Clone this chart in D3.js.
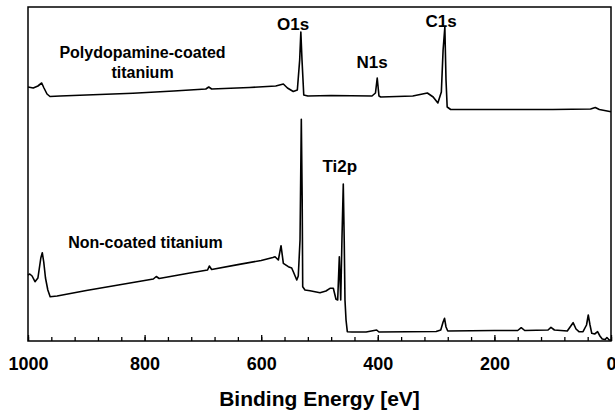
<!DOCTYPE html>
<html>
<head>
<meta charset="utf-8">
<script src="https://cdn.jsdelivr.net/npm/d3@7"></script>
<style>
    body { margin: 0; background: #fff; }
    svg { display: block; font-family: "Liberation Sans", Arial, sans-serif; }
</style>
</head>
<body>
<svg id="chart" width="615" height="416"></svg>
<script>
// binding energy (eV) and intensity (arb. units)
const coatedEnergy = [1000, 991, 983, 976.5, 972.6, 967.4, 962.3, 945, 900, 820, 750, 695, 690, 685, 620, 575, 562, 555, 545, 538, 534, 532, 530, 527, 520, 480, 410, 404, 401, 398, 395, 340, 315, 305, 297, 291, 288, 285, 283, 281, 275, 200, 100, 35, 27, 20, 0]
const coatedIntensity = [254, 253, 255, 258, 253, 247, 244.5, 245, 246, 247.7, 250, 252, 254, 252, 253.5, 255, 257, 253, 249.5, 251, 281, 309, 281, 246, 245, 245.5, 245, 248, 263, 245, 244, 245, 248, 244, 238, 249, 291, 314, 261, 234, 231.5, 231.5, 231.5, 232, 233.5, 231.5, 229.3]

const bareEnergy = [1000, 997, 993, 988, 983, 978, 975.5, 973, 970, 966, 962, 950, 900, 850, 785, 780, 775, 720, 692, 689, 685, 640, 600, 580, 576.3, 570.6, 566, 562, 553.5, 547.7, 544.9, 539, 536.4, 533.4, 531.2, 529.7, 528.8, 524.9, 516.3, 499.1, 488.9, 482, 476.3, 471.7, 468.8, 466, 463.6, 461.4, 459.2, 457.6, 456.3, 454.5, 452.3, 444.3, 420, 402, 398, 300, 292, 288, 285.5, 283, 280, 200, 160, 154, 148, 108, 103, 97, 75, 65, 60, 55, 48, 42, 39, 36, 33, 28, 23, 19, 15, 10, 7, 3, 0]
const bareIntensity = [66, 67, 65, 59.3, 63, 83, 88.3, 79, 63, 51, 44.3, 45, 50.5, 55.5, 62, 64.5, 62.5, 68.3, 71, 75, 71.5, 76.4, 80.5, 83.5, 84.3, 81, 95.3, 77.7, 74.3, 73, 69.3, 61, 65, 101, 221.7, 141, 54.3, 51, 50.3, 48.3, 50, 52.7, 52.7, 41.7, 41, 84.3, 41, 104.3, 157, 101, 41, 21, 9.3, 9, 9, 11, 9, 9.5, 11, 19, 22.7, 14, 10, 10.5, 10.5, 13.3, 10.5, 11, 13.7, 11, 10, 18.3, 12, 9.3, 9.3, 16, 26, 16, 7.7, 7, 9.3, 5, 2, 1.5, 3.5, 1, 1]

const majorTicks = [1000, 800, 600, 400, 200, 0]
const minorTicks = d3.range(0, 1001, 40)

const xLabel = "Binding Energy [eV]"

const peakLabels = [
    { text: "O1s", x: 277, y: 30 },
    { text: "N1s", x: 356.5, y: 67.5 },
    { text: "C1s", x: 425.5, y: 26.5 },
    { text: "Ti2p", x: 322.5, y: 171.5 }
]

const margin = { top: 7, right: 4, bottom: 75, left: 28 }
const width = 615 - margin.left - margin.right
const height = 416 - margin.top - margin.bottom

const svg = d3.select("#chart")
const g = svg.append("g").attr("transform", `translate(${margin.left},${margin.top})`)

const x = d3.scaleLinear().domain([1000, 0]).range([0, width])
const y = d3.scaleLinear().domain([0, 334]).range([height, 0])

// minor ticks first, then the labelled ones
g.append("g")
    .attr("transform", `translate(0,${height})`)
    .call(d3.axisBottom(x).tickValues(minorTicks).tickSize(-4).tickFormat(""))
    .call(a => a.select(".domain").remove())
    .selectAll("line").attr("stroke-width", 1.3)

const xAxis = g.append("g")
    .attr("transform", `translate(0,${height})`)
    .call(d3.axisBottom(x).tickValues(majorTicks).tickSize(-6).tickPadding(16).tickFormat(d3.format("d")))
xAxis.select(".domain").remove()
xAxis.selectAll("line").attr("stroke-width", 1.3)
xAxis.selectAll("text")
    .attr("font-family", "Liberation Sans, Arial, sans-serif")
    .attr("font-size", 18)
    .attr("font-weight", "bold")
    .attr("fill", "#000")

const line = d3.line()
    .x(d => x(d[0]))
    .y(d => y(d[1]))

g.append("path")
    .datum(d3.zip(coatedEnergy, coatedIntensity))
    .attr("fill", "none")
    .attr("stroke", "#000")
    .attr("stroke-width", 1.6)
    .attr("stroke-linejoin", "round")
    .attr("d", line)

g.append("path")
    .datum(d3.zip(bareEnergy, bareIntensity))
    .attr("fill", "none")
    .attr("stroke", "#000")
    .attr("stroke-width", 1.6)
    .attr("stroke-linejoin", "round")
    .attr("d", line)

// plot frame
g.append("rect")
    .attr("width", width)
    .attr("height", height)
    .attr("fill", "none")
    .attr("stroke", "#000")
    .attr("stroke-width", 1.5)

// peak annotations
svg.selectAll(".peak")
    .data(peakLabels)
    .join("text")
    .attr("class", "peak")
    .attr("x", d => d.x)
    .attr("y", d => d.y)
    .attr("font-size", 17)
    .attr("font-weight", "bold")
    .text(d => d.text)

// sample names
const sample = svg.append("text")
    .attr("font-size", 16)
    .attr("font-weight", "bold")
    .attr("text-anchor", "middle")
sample.append("tspan").attr("x", 142.5).attr("y", 58.3).text("Polydopamine-coated")
sample.append("tspan").attr("x", 142.5).attr("y", 78).text("titanium")

svg.append("text")
    .attr("x", 145.5)
    .attr("y", 248.3)
    .attr("font-size", 16)
    .attr("font-weight", "bold")
    .attr("text-anchor", "middle")
    .text("Non-coated titanium")

svg.append("text")
    .attr("x", margin.left + width / 2)
    .attr("y", 405.5)
    .attr("font-size", 21)
    .attr("font-weight", "bold")
    .attr("text-anchor", "middle")
    .text(xLabel)
</script>
</body>
</html>
